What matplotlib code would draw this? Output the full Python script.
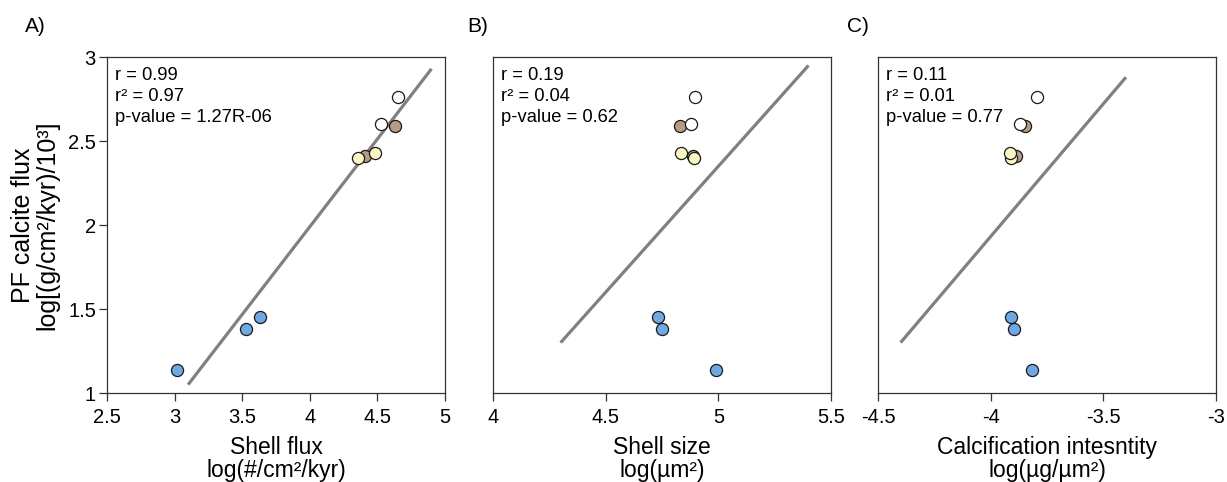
import matplotlib
matplotlib.use("Agg")
from matplotlib import pyplot as plt
from matplotlib.ticker import FuncFormatter

plt.rcParams['font.family'] = ['Liberation Sans', 'DejaVu Sans']
plt.rcParams['axes.unicode_minus'] = False

# PF calcite flux (y), shared by all panels, per group
yBlue = [1.14, 1.38, 1.45]
yBrown = [2.41, 2.59]
yWhite = [2.60, 2.76]
yYellow = [2.40, 2.43]

# panel A: shell flux
aBlue = [3.02, 3.53, 3.63]
aBrown = [4.41, 4.63]
aWhite = [4.53, 4.65]
aYellow = [4.36, 4.48]

# panel B: shell size
bBlue = [4.99, 4.75, 4.73]
bBrown = [4.888, 4.83]
bWhite = [4.88, 4.895]
bYellow = [4.891, 4.832]

# panel C: calcification intensity
cBlue = [-3.816, -3.898, -3.912]
cBrown = [-3.890, -3.846]
cWhite = [-3.868, -3.793]
cYellow = [-3.912, -3.915]

# regression lines (end points)
fitA_x = [3.10, 4.90]
fitA_y = [1.05, 2.93]
fitB_x = [4.30, 5.40]
fitB_y = [1.30, 2.95]
fitC_x = [-4.40, -3.40]
fitC_y = [1.30, 2.88]

statsA = "r = 0.99\nr\u00b2 = 0.97\np-value = 1.27R-06"
statsB = "r = 0.19\nr\u00b2 = 0.04\np-value = 0.62"
statsC = "r = 0.11\nr\u00b2 = 0.01\np-value = 0.77"

xTicksA = [2.5, 3, 3.5, 4, 4.5, 5]
xTicksB = [4, 4.5, 5, 5.5]
xTicksC = [-4.5, -4, -3.5, -3]
yTicks = [1, 1.5, 2, 2.5, 3]

xLabelA = "Shell flux\nlog(#/cm\u00b2/kyr)"
xLabelB = "Shell size\nlog(\u00b5m\u00b2)"
xLabelC = "Calcification intesntity\nlog(\u00b5g/\u00b5m\u00b2)"
yLabel = "PF calcite flux\nlog[(g/cm\u00b2/kyr)/10\u00b3]"

colBlue = "#6fa8e4"
colBrown = "#b39d86"
colWhite = "#ffffff"
colYellow = "#fbf6c2"

fig = plt.figure(figsize=(12.27, 4.82), dpi=100)

panels = [
    (0.0872, 0.020, aBlue, aBrown, aWhite, aYellow, fitA_x, fitA_y, statsA, xTicksA, xLabelA, "A)"),
    (0.4018, 0.381, bBlue, bBrown, bWhite, bYellow, fitB_x, fitB_y, statsB, xTicksB, xLabelB, "B)"),
    (0.7156, 0.690, cBlue, cBrown, cWhite, cYellow, fitC_x, fitC_y, statsC, xTicksC, xLabelC, "C)"),
]

fmt = FuncFormatter(lambda v, p: "%g" % v)

for i, (left, letterX, xb, xbr, xw, xy, fx, fy, stats, xticks, xlabel, letter) in enumerate(panels):
    ax = fig.add_axes([left, 0.1846, 0.2755, 0.697])
    ax.plot(fx, fy, color="#808080", lw=2.3, solid_capstyle="butt", zorder=1)
    for xs, ys, col in [(xb, yBlue, colBlue), (xbr, yBrown, colBrown),
                        (xw, yWhite, colWhite), (xy, yYellow, colYellow)]:
        ax.scatter(xs, ys, s=76, c=col, edgecolors="#1a1a1a", linewidths=0.9, zorder=3)

    ax.set_xlim(xticks[0], xticks[-1])
    ax.set_ylim(1, 3)
    ax.set_xticks(xticks)
    ax.xaxis.set_major_formatter(fmt)
    ax.tick_params(axis="x", direction="out", length=6, width=0.9, color="#333333",
                   labelsize=14.5, pad=5)
    if i == 0:
        ax.set_yticks(yTicks)
        ax.yaxis.set_major_formatter(fmt)
        ax.tick_params(axis="y", direction="out", length=6, width=0.9, color="#333333",
                       labelsize=14.5, pad=2)
        ax.text(-0.212, 0.5, yLabel, transform=ax.transAxes, rotation=90,
                ha="center", va="center", fontsize=18, linespacing=1.05,
                multialignment="center")
    else:
        ax.set_yticks([])

    for s in ax.spines.values():
        s.set_color("#333333")
        s.set_linewidth(0.9)

    ax.text(0.024, 0.97, stats, transform=ax.transAxes, ha="left", va="top",
            fontsize=13.2, linespacing=1.3)
    ax.text(0.5, -0.128, xlabel, transform=ax.transAxes, ha="center", va="top",
            fontsize=16.5, linespacing=0.98, multialignment="center")
    fig.text(letterX, 0.946, letter, ha="left", va="center", fontsize=15)

fig.savefig("out.png", dpi=100)
plt.close()
